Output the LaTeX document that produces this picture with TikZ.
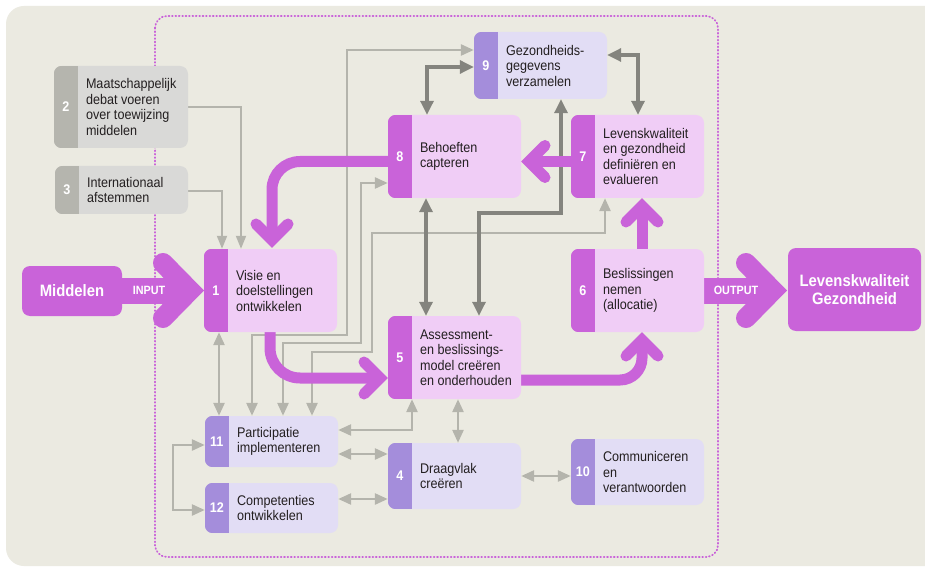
\documentclass[tikz,border=0pt]{standalone}
\usepackage{fontspec}
\setmainfont{Liberation Sans}[FakeStretch=0.9]
\usetikzlibrary{arrows.meta,calc}
\pgfdeclarelayer{bg}
\pgfsetlayers{bg,main}
\definecolor{mag}{HTML}{C963D9}
\definecolor{pinkl}{HTML}{F0CDF6}
\definecolor{purt}{HTML}{A48DDB}
\definecolor{lav}{HTML}{E2DDF5}
\definecolor{grt}{HTML}{B5B5AE}
\definecolor{grb}{HTML}{D9D9D7}
\definecolor{lgray}{HTML}{B4B4AC}
\definecolor{dgray}{HTML}{84847E}
\definecolor{beige}{HTML}{EBEAE1}
\definecolor{txt}{HTML}{231F20}
\tikzset{
  box/.style={rectangle, rounded corners=8pt, inner sep=0pt, draw=none},
  numlab/.style={text=white, font=\bfseries\fontsize{14}{16}\selectfont, inner sep=0pt},
  boxlab/.style={anchor=west, align=left, inner sep=0pt, text=txt, font=\fontsize{14}{15.5}\selectfont},
  lgl/.style={draw=lgray, line width=2.6pt, {Triangle[length=13pt,width=11pt]}-{Triangle[length=13pt,width=11pt]}},
  lgone/.style={draw=lgray, line width=1.8pt, -{Triangle[length=13pt,width=10pt]}},
  dgl/.style={draw=dgray, line width=3.2pt, {Triangle[length=14pt,width=13pt]}-{Triangle[length=14pt,width=13pt]}},
  bigm/.style={draw=mag, line width=11pt},
  chev/.style={draw=mag, line width=11pt, line cap=round, line join=miter},
  bigchev/.style={draw=mag, line width=20pt, line cap=round, line join=miter},
  bigbox/.style={rectangle, rounded corners=8pt, fill=mag, inner sep=0pt, text=white, font=\bfseries\fontsize{16.5}{17.5}\selectfont},
  iolab/.style={text=white, inner sep=0pt, font=\bfseries\fontsize{12}{13}\selectfont},
}
\newcommand\pbox[9]{%
  \node[box, fill=#7, minimum width={(#4-#2)*1pt}, minimum height={(#5-#3)*1pt}] (#1) at ({(#2+#4)/2},{(#3+#5)/2}) {};
  \begin{scope}
    \clip[rounded corners=8pt] (#1.north west) rectangle (#1.south east);
    \fill[#6] (#1.north west) rectangle ([xshift=24pt]#1.south west);
  \end{scope}
  \node[numlab] (#1-num) at ([xshift=12pt]#1.west) {#8};
  \node[boxlab] (#1-txt) at ([xshift=32pt]#1.west) {#9};
}
\begin{document}
\begin{tikzpicture}[x=1pt,y=-1pt]
\useasboundingbox (0,0) rectangle (925,569);
\clip (0,0) rectangle (925,569);

% boxes
\pbox{n2}{54}{66}{188}{148}{grt}{grb}{2}{Maatschappelijk\\debat voeren\\over toewijzing\\middelen}
\pbox{n3}{55}{166}{188}{214}{grt}{grb}{3}{Internationaal\\afstemmen}
\pbox{n1}{204}{249}{337}{332}{mag}{pinkl}{1}{Visie en\\doelstellingen\\ontwikkelen}
\pbox{n8}{388}{115}{521}{198}{mag}{pinkl}{8}{Behoeften\\capteren}
\pbox{n9}{474}{32}{607}{99}{purt}{lav}{9}{Gezondheids-\\gegevens\\verzamelen}
\pbox{n7}{571}{115}{704}{198}{mag}{pinkl}{7}{Levenskwaliteit\\en gezondheid\\definiëren en\\evalueren}
\pbox{n5}{388}{316}{521}{399}{mag}{pinkl}{5}{Assessment-\\en beslissings-\\model creëren\\en onderhouden}
\pbox{n6}{571}{249}{704}{332}{mag}{pinkl}{6}{Beslissingen\\nemen\\(allocatie)}
\pbox{n11}{205}{416}{338}{467}{purt}{lav}{11}{Participatie\\implementeren}
\pbox{n12}{205}{483}{338}{533}{purt}{lav}{12}{Competenties\\ontwikkelen}
\pbox{n4}{388}{443}{521}{509}{purt}{lav}{4}{Draagvlak\\creëren}
\pbox{n10}{571}{439}{704}{505}{purt}{lav}{10}{Communiceren\\en\\verantwoorden}

\node[bigbox, minimum width=100pt, minimum height=50pt] (mid) at (72,291) {Middelen};
\node[bigbox, minimum width=133pt, minimum height=83pt, align=center] (lev) at (854.5,289.5) {Levenskwaliteit\\Gezondheid};

\begin{pgfonlayer}{bg}
\fill[white] (0,0) rectangle (925,569);
\fill[beige, rounded corners=18pt] (6,6) rectangle (960,566);
% dotted frame
\draw[mag, line width=1.8pt, line cap=round, dash pattern=on 0.8pt off 2.6pt, rounded corners=12pt] (155,16) rectangle (718,557);

% light gray connectors
\draw[lgone] (n2.east |- 0,107) -| (n1.north -| 241,0);
\draw[lgone] (n3.east |- 0,191) -| (n1.north -| 222,0);
\draw[lgl] (n1.south -| 219,0) -- (n11.north -| 219,0);
\draw[lgl] (n9.west |- 0,50) -| (347,335) -| (n11.north -| 252,0);
\draw[lgl] (n8.west |- 0,183) -| (361,343) -| (n11.north -| 283,0);
\draw[lgl] (n7.south -| 605,0) |- (372,233) |- (312,352) -- (n11.north -| 312,0);
\draw[lgl] (n11.east |- 0,430) -| (n5.south -| 412,0);
\draw[lgl] (n5.south -| 458,0) -- (n4.north -| 458,0);
\draw[lgl] (n11.east |- 0,454) -- (n4.west |- 0,454);
\draw[lgl] (n12.east |- 0,499) -- (n4.west |- 0,499);
\draw[lgl] (n4.east |- 0,476) -- (n10.west |- 0,476);
\draw[lgl] (n11.west |- 0,445) -| (173,478) |- (n12.west |- 0,510);

% dark gray connectors
\draw[dgl] (n9.west |- 0,67) -| (n8.north -| 427,0);
\draw[dgl] (n9.east |- 0,55) -| (n7.north -| 638,0);
\draw[dgl] (n8.south -| 426,0) -- (n5.north -| 426,0);
\draw[dgl] (n9.south -| 561,0) |- (479,213) -- (n5.north -| 479,0);

% big magenta arrows
\draw[bigm, rounded corners=28pt] (n8.west |- 0,161.5) -| (272,236);
\draw[chev] (256,224) -- (272,240) -- (288,224);
\draw[bigm, rounded corners=30pt] (n1.south -| 270,0) |- (381,378);
\draw[chev] (364,362) -- (380,378) -- (364,394);
\draw[bigm, rounded corners=22pt] (n5.east |- 0,380) -| (642,340);
\draw[chev] (626,356) -- (642,340) -- (658,356);
\draw[bigm] (n6.north -| 642,0) -- (642,206);
\draw[chev] (626,222) -- (642,206) -- (658,222);
\draw[bigm] (n7.west |- 0,161.5) -- (529,161.5);
\draw[chev] (545,145.5) -- (529,161.5) -- (545,177.5);

% input / output arrows
\fill[mag] (mid.east |- 0,277.5) rectangle (185,303.5);
\draw[bigchev] (163,263) -- (190,290.5) -- (163,318);
\fill[mag] (n6.east |- 0,277.5) rectangle (768,303.5);
\draw[bigchev] (746,263) -- (773,290.5) -- (746,318);
\end{pgfonlayer}

\node[iolab] (inlab) at (149,290.5) {INPUT};
\node[iolab] (outlab) at (736,290.5) {OUTPUT};
\end{tikzpicture}
\end{document}
